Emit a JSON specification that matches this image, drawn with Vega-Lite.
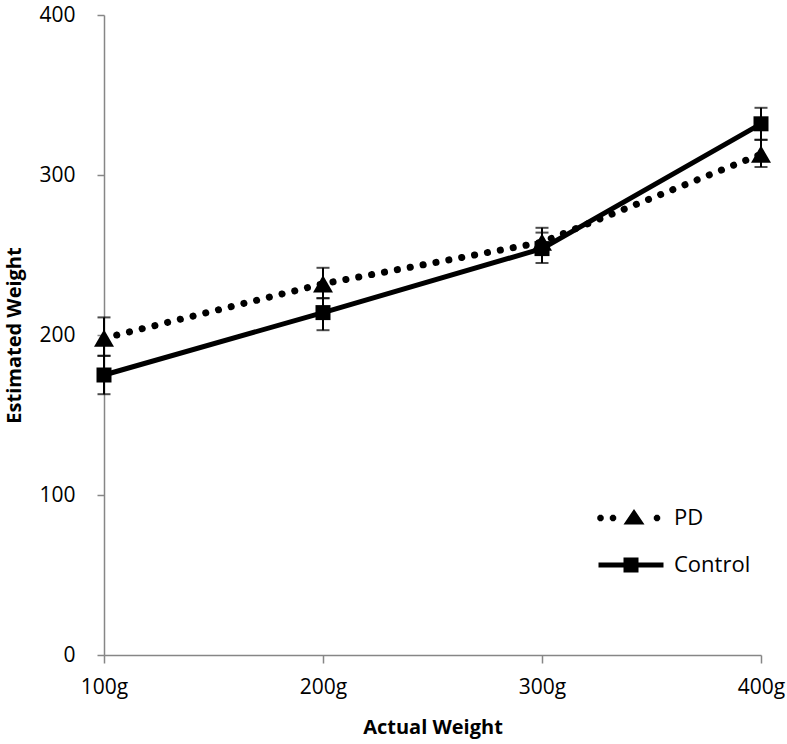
{
  "$schema": "https://vega.github.io/schema/vega-lite/v6.json",
  "width": 657,
  "height": 640,
  "autosize": {"type": "none"},
  "padding": {"left": 104, "top": 15, "right": 26, "bottom": 89},
  "background": "white",
  "config": {
    "view": {"stroke": null},
    "axis": {
      "grid": false,
      "domainColor": "#868686",
      "tickColor": "#868686",
      "domainWidth": 1.5,
      "tickWidth": 1.5,
      "labelFont": "Open Sans",
      "labelFontSize": 21,
      "labelColor": "black",
      "titleFont": "Open Sans",
      "titleFontWeight": "bold",
      "titleFontSize": 20,
      "titleColor": "black"
    }
  },
  "data": {
    "values": [
      {"weight": "100g", "group": "PD", "mean": 198, "lo": 187, "hi": 211},
      {"weight": "200g", "group": "PD", "mean": 232, "lo": 223, "hi": 242},
      {"weight": "300g", "group": "PD", "mean": 258, "lo": 250, "hi": 267},
      {"weight": "400g", "group": "PD", "mean": 313, "lo": 305, "hi": 322},
      {"weight": "100g", "group": "Control", "mean": 175, "lo": 163, "hi": 187},
      {"weight": "200g", "group": "Control", "mean": 214, "lo": 203, "hi": 223},
      {"weight": "300g", "group": "Control", "mean": 254, "lo": 245, "hi": 264},
      {"weight": "400g", "group": "Control", "mean": 332, "lo": 322, "hi": 342}
    ]
  },
  "encoding": {
    "x": {
      "field": "weight",
      "type": "ordinal",
      "scale": {"type": "point", "padding": 0, "domain": ["100g", "200g", "300g", "400g"]},
      "axis": {"title": "Actual Weight", "labelAngle": 0, "tickSize": 8, "labelPadding": 13, "titlePadding": 20}
    }
  },
  "layer": [
    {
      "mark": {"type": "line", "color": "black", "strokeWidth": 7, "strokeCap": "round", "strokeDash": [0.1, 13]},
      "transform": [{"filter": "datum.group === 'PD'"}],
      "encoding": {
        "y": {
          "field": "mean",
          "type": "quantitative",
          "scale": {"domain": [0, 400]},
          "axis": {"values": [0, 100, 200, 300, 400], "title": "Estimated Weight", "tickSize": 7, "labelPadding": 22, "titlePadding": 14}
        }
      }
    },
    {
      "mark": {"type": "line", "color": "black", "strokeWidth": 5},
      "transform": [{"filter": "datum.group === 'Control'"}],
      "encoding": {"y": {"field": "mean", "type": "quantitative"}}
    },
    {
      "mark": {"type": "rule", "color": "black", "strokeWidth": 2},
      "encoding": {
        "y": {"field": "lo", "type": "quantitative"},
        "y2": {"field": "hi"}
      }
    },
    {
      "mark": {"type": "tick", "color": "black", "size": 13, "thickness": 2, "orient": "horizontal"},
      "encoding": {"y": {"field": "lo", "type": "quantitative"}}
    },
    {
      "mark": {"type": "tick", "color": "black", "size": 13, "thickness": 2, "orient": "horizontal"},
      "encoding": {"y": {"field": "hi", "type": "quantitative"}}
    },
    {
      "mark": {"type": "point", "filled": true, "color": "black", "opacity": 1, "shape": "triangle-up", "size": 400},
      "transform": [{"filter": "datum.group === 'PD'"}],
      "encoding": {"y": {"field": "mean", "type": "quantitative"}}
    },
    {
      "mark": {"type": "point", "filled": true, "color": "black", "opacity": 1, "shape": "square", "size": 225},
      "transform": [{"filter": "datum.group === 'Control'"}],
      "encoding": {"y": {"field": "mean", "type": "quantitative"}}
    },
    {
      "mark": {"type": "point", "filled": true, "color": "black", "opacity": 1},
      "transform": [{"filter": "false"}],
      "encoding": {
        "y": {"field": "mean", "type": "quantitative"},
        "shape": {
          "field": "group",
          "type": "nominal",
          "scale": {
            "domain": ["PD", "Control"],
            "range": [
              "M-2.727,-0.134L-2.727,0.134L-2.916,0.323L-3.184,0.323L-3.373,0.134L-3.373,-0.134L-3.184,-0.323L-2.916,-0.323Z M-1.477,-0.134L-1.477,0.134L-1.666,0.323L-1.934,0.323L-2.123,0.134L-2.123,-0.134L-1.934,-0.323L-1.666,-0.323Z M2.923,-0.134L2.923,0.134L2.734,0.323L2.466,0.323L2.277,0.134L2.277,-0.134L2.466,-0.323L2.734,-0.323Z M0.3,-0.9L1.35,0.65L-0.75,0.65Z",
              "M-3.25,-0.25L3.25,-0.25L3.25,0.25L-3.25,0.25Z M-0.75,-0.75L0.75,-0.75L0.75,0.75L-0.75,0.75Z"
            ]
          },
          "legend": {
            "title": null,
            "orient": "none",
            "legendX": 516,
            "legendY": 492,
            "padding": 0,
            "symbolSize": 400,
            "symbolFillColor": "black",
            "symbolStrokeColor": "black",
            "symbolStrokeWidth": 0,
            "symbolOpacity": 1,
            "rowPadding": 25,
            "labelOffset": 32,
            "labelFont": "Open Sans",
            "labelFontSize": 22,
            "labelColor": "black"
          }
        }
      }
    }
  ]
}
